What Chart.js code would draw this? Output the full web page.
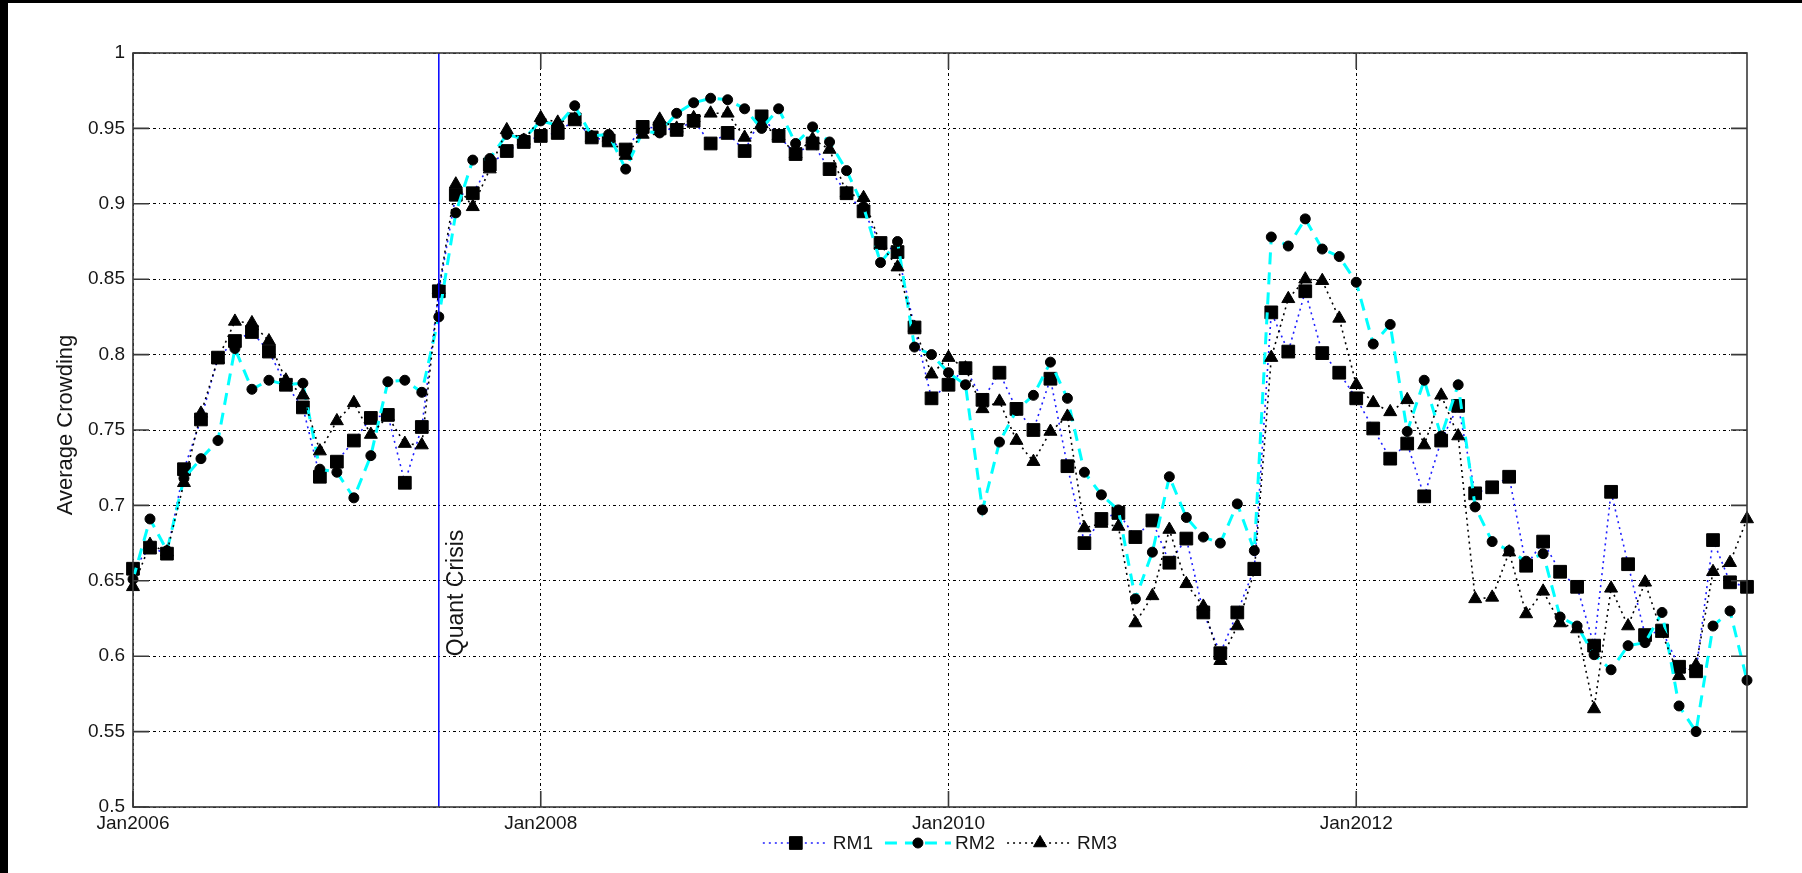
<!DOCTYPE html>
<html>
<head>
<meta charset="utf-8">
<title>Average Crowding</title>
<script src="https://cdn.jsdelivr.net/npm/chart.js@4.4.1/dist/chart.umd.min.js"></script>
<style>
  html, body { margin: 0; padding: 0; background: #000; }
  #wrap { position: absolute; left: 8px; top: 3px; width: 1794px; height: 870px; background: #fff; }
</style>
</head>
<body>
<div id="wrap"><canvas id="crowdChart" width="1794" height="870"></canvas></div>
<script>
// x axis: month index from Jan2006
const xTickMonths = [0, 24, 48, 72];
const xTickLabels = ['Jan2006', 'Jan2008', 'Jan2010', 'Jan2012'];
const lastMonth = 95;
const yTickLabels = ['0.5', '0.55', '0.6', '0.65', '0.7', '0.75', '0.8', '0.85', '0.9', '0.95', '1'];
const yTitle = 'Average Crowding';

const crisisMonth = 18;
const crisisLabel = 'Quant Crisis';

const seriesNames = ['RM1', 'RM2', 'RM3'];

// monthly values, Jan2006 .. Dec2013
const rm1 = [
    0.658, 0.672, 0.668, 0.724, 0.757, 0.798, 0.809, 0.815, 0.802, 0.780, 0.765, 0.719,
    0.729, 0.743, 0.758, 0.760, 0.715, 0.752, 0.842, 0.906, 0.907, 0.926, 0.935, 0.941,
    0.945, 0.947, 0.956, 0.944, 0.942, 0.936, 0.951, 0.950, 0.949, 0.955, 0.940, 0.947,
    0.935, 0.958, 0.945, 0.933, 0.940, 0.923, 0.907, 0.895, 0.874, 0.868, 0.818, 0.771,
    0.780, 0.791, 0.770, 0.788, 0.764, 0.750, 0.784, 0.726, 0.675, 0.691, 0.695, 0.679,
    0.690, 0.662, 0.678, 0.629, 0.602, 0.629, 0.658, 0.828, 0.802, 0.842, 0.801, 0.788,
    0.771, 0.751, 0.731, 0.741, 0.706, 0.743, 0.766, 0.708, 0.712, 0.719, 0.660, 0.676,
    0.656, 0.646, 0.607, 0.709, 0.661, 0.614, 0.617, 0.593, 0.590, 0.677, 0.649, 0.646
];
const rm2 = [
    0.651, 0.691, 0.670, 0.718, 0.731, 0.743, 0.804, 0.777, 0.783, 0.780, 0.781, 0.724,
    0.722, 0.705, 0.733, 0.782, 0.783, 0.775, 0.825, 0.894, 0.929, 0.930, 0.946, 0.943,
    0.955, 0.952, 0.965, 0.945, 0.946, 0.923, 0.948, 0.947, 0.960, 0.967, 0.970, 0.969,
    0.963, 0.950, 0.963, 0.940, 0.951, 0.941, 0.922, 0.898, 0.861, 0.875, 0.805, 0.800,
    0.788, 0.780, 0.697, 0.742, 0.763, 0.773, 0.795, 0.771, 0.722, 0.707, 0.697, 0.638,
    0.669, 0.719, 0.692, 0.679, 0.675, 0.701, 0.670, 0.878, 0.872, 0.890, 0.870, 0.865,
    0.848, 0.807, 0.820, 0.749, 0.783, 0.746, 0.780, 0.699, 0.676, 0.670, 0.663, 0.668,
    0.626, 0.620, 0.601, 0.591, 0.607, 0.609, 0.629, 0.567, 0.550, 0.620, 0.630, 0.584
];
const rm3 = [
    0.646, 0.674, 0.669, 0.715, 0.761, 0.797, 0.822, 0.821, 0.809, 0.783, 0.773, 0.736,
    0.756, 0.768, 0.747, 0.759, 0.741, 0.740, 0.843, 0.913, 0.898, 0.923, 0.949, 0.942,
    0.957, 0.954, 0.956, 0.944, 0.944, 0.932, 0.946, 0.956, 0.950, 0.957, 0.960, 0.960,
    0.944, 0.953, 0.945, 0.933, 0.943, 0.936, 0.907, 0.904, 0.873, 0.858, 0.818, 0.787,
    0.798, 0.791, 0.764, 0.769, 0.743, 0.729, 0.749, 0.759, 0.685, 0.688, 0.686, 0.622,
    0.640, 0.684, 0.648, 0.633, 0.597, 0.620, 0.656, 0.798, 0.837, 0.850, 0.849, 0.824,
    0.780, 0.768, 0.762, 0.770, 0.740, 0.773, 0.746, 0.638, 0.639, 0.669, 0.628, 0.643,
    0.622, 0.618, 0.565, 0.645, 0.620, 0.649, 0.615, 0.587, 0.594, 0.656, 0.662, 0.691
];

const fontFamily = '"Liberation Sans", Arial, sans-serif';
const textColor = '#161616';
const gridDash = [3, 3, 1, 3];
const tickLen = 16;

Chart.defaults.font.family = fontFamily;
Chart.defaults.font.size = 19;
Chart.defaults.color = textColor;

const toPoints = values => values.map((v, i) => ({ x: i, y: v }));

// marker shapes, same geometry as chart.js point styles
function drawMarker(ctx, style, x, y, r) {
    ctx.beginPath();
    if (style === 'rect') {
        const s = Math.SQRT1_2 * r;
        ctx.rect(x - s, y - s, 2 * s, 2 * s);
    } else if (style === 'triangle') {
        ctx.moveTo(x, y - r);
        ctx.lineTo(x + r * Math.sin(2 * Math.PI / 3), y + r / 2);
        ctx.lineTo(x - r * Math.sin(2 * Math.PI / 3), y + r / 2);
        ctx.closePath();
    } else {
        ctx.arc(x, y, r, 0, Math.PI * 2);
    }
    ctx.fill();
    ctx.stroke();
}

const matlabFrame = {
    id: 'matlabFrame',
    afterDatasetsDraw(chart) {
        const { ctx, chartArea: a, scales: { x, y } } = chart;
        ctx.save();

        // crisis marker line
        const cx = x.getPixelForValue(crisisMonth);
        ctx.strokeStyle = '#0000ff';
        ctx.lineWidth = 1.5;
        ctx.beginPath();
        ctx.moveTo(cx, a.top);
        ctx.lineTo(cx, a.bottom);
        ctx.stroke();

        ctx.translate(cx + 24, y.getPixelForValue(0.6));
        ctx.rotate(-Math.PI / 2);
        ctx.fillStyle = textColor;
        ctx.font = '23px ' + fontFamily;
        ctx.textAlign = 'left';
        ctx.textBaseline = 'alphabetic';
        ctx.fillText(crisisLabel, 0, 0);
        ctx.restore();
    },
    afterDraw(chart) {
        const { ctx, chartArea: a, scales: { x, y } } = chart;
        ctx.save();

        // box + inward ticks
        ctx.strokeStyle = '#3a3a3a';
        ctx.lineWidth = 1.6;
        ctx.strokeRect(a.left, a.top, a.right - a.left, a.bottom - a.top);
        ctx.beginPath();
        yTickLabels.forEach(t => {
            const py = y.getPixelForValue(Number(t));
            ctx.moveTo(a.left, py); ctx.lineTo(a.left + tickLen, py);
            ctx.moveTo(a.right, py); ctx.lineTo(a.right - tickLen, py);
        });
        xTickMonths.forEach(m => {
            const px = x.getPixelForValue(m);
            ctx.moveTo(px, a.bottom); ctx.lineTo(px, a.bottom - tickLen);
            ctx.moveTo(px, a.top); ctx.lineTo(px, a.top + tickLen);
        });
        ctx.stroke();

        // y title
        ctx.save();
        ctx.translate(58, (a.top + a.bottom) / 2 - 5);
        ctx.rotate(-Math.PI / 2);
        ctx.fillStyle = textColor;
        ctx.font = '22px ' + fontFamily;
        ctx.textAlign = 'center';
        ctx.textBaseline = 'middle';
        ctx.fillText(yTitle, 0, 0);
        ctx.restore();

        // legend
        const sampleLen = 66, textGap = 4, itemGap = 12, ly = 840;
        ctx.font = '19px ' + fontFamily;
        const items = chart.data.datasets.map(ds => ({ ds, w: ctx.measureText(ds.label).width }));
        const total = items.reduce((s, it) => s + sampleLen + textGap + it.w, 0) + itemGap * (items.length - 1);
        let lx = (a.left + a.right) / 2 - total / 2;
        items.forEach(({ ds, w }) => {
            ctx.save();
            ctx.strokeStyle = ds.borderColor;
            ctx.lineWidth = ds.borderWidth;
            ctx.setLineDash(ds.borderDash);
            ctx.beginPath();
            ctx.moveTo(lx, ly);
            ctx.lineTo(lx + sampleLen, ly);
            ctx.stroke();
            ctx.setLineDash([]);
            ctx.fillStyle = '#000';
            ctx.strokeStyle = '#000';
            ctx.lineWidth = 1;
            drawMarker(ctx, ds.pointStyle, lx + sampleLen / 2, ly, ds.pointRadius);
            ctx.restore();
            ctx.fillStyle = textColor;
            ctx.textAlign = 'left';
            ctx.textBaseline = 'middle';
            ctx.fillText(ds.label, lx + sampleLen + textGap, ly + 1);
            lx += sampleLen + textGap + w + itemGap;
        });
        ctx.restore();
    }
};

const markerCommon = {
    fill: false,
    tension: 0,
    clip: false,
    pointBackgroundColor: '#000',
    pointBorderColor: '#000',
    pointBorderWidth: 1
};

new Chart(document.getElementById('crowdChart').getContext('2d'), {
    type: 'line',
    data: {
        datasets: [
            Object.assign({
                label: seriesNames[0],
                data: toPoints(rm1),
                borderColor: '#1f1fff',
                borderWidth: 1.6,
                borderDash: [2, 4],
                pointStyle: 'rect',
                pointRadius: 9,
                order: 3
            }, markerCommon),
            Object.assign({
                label: seriesNames[1],
                data: toPoints(rm2),
                borderColor: '#00ffff',
                borderWidth: 3,
                borderDash: [12, 8],
                pointStyle: 'circle',
                pointRadius: 5,
                order: 2
            }, markerCommon),
            Object.assign({
                label: seriesNames[2],
                data: toPoints(rm3),
                borderColor: '#000000',
                borderWidth: 1.6,
                borderDash: [2, 4],
                pointStyle: 'triangle',
                pointRadius: 7.5,
                order: 1
            }, markerCommon)
        ]
    },
    options: {
        responsive: false,
        animation: false,
        devicePixelRatio: 1,
        layout: { padding: { top: 50, right: 55, left: 0, bottom: 0 } },
        plugins: {
            legend: { display: false },
            tooltip: { enabled: false }
        },
        scales: {
            x: {
                type: 'linear',
                min: 0,
                max: lastMonth,
                afterBuildTicks: s => { s.ticks = xTickMonths.map(v => ({ value: v })); },
                afterFit: s => { s.height = 66; },
                ticks: {
                    autoSkip: false,
                    maxRotation: 0,
                    padding: 5,
                    callback: v => xTickLabels[xTickMonths.indexOf(v)]
                },
                grid: { color: '#000', lineWidth: 1, drawTicks: false },
                border: { display: false, dash: gridDash }
            },
            y: {
                min: 0.5,
                max: 1,
                afterBuildTicks: s => { s.ticks = yTickLabels.map(t => ({ value: Number(t) })); },
                afterFit: s => { s.width = 125; },
                ticks: {
                    padding: 8,
                    callback: (v, i) => yTickLabels[i]
                },
                grid: { color: '#000', lineWidth: 1, drawTicks: false },
                border: { display: false, dash: gridDash }
            }
        }
    },
    plugins: [matlabFrame]
});
</script>
</body>
</html>
